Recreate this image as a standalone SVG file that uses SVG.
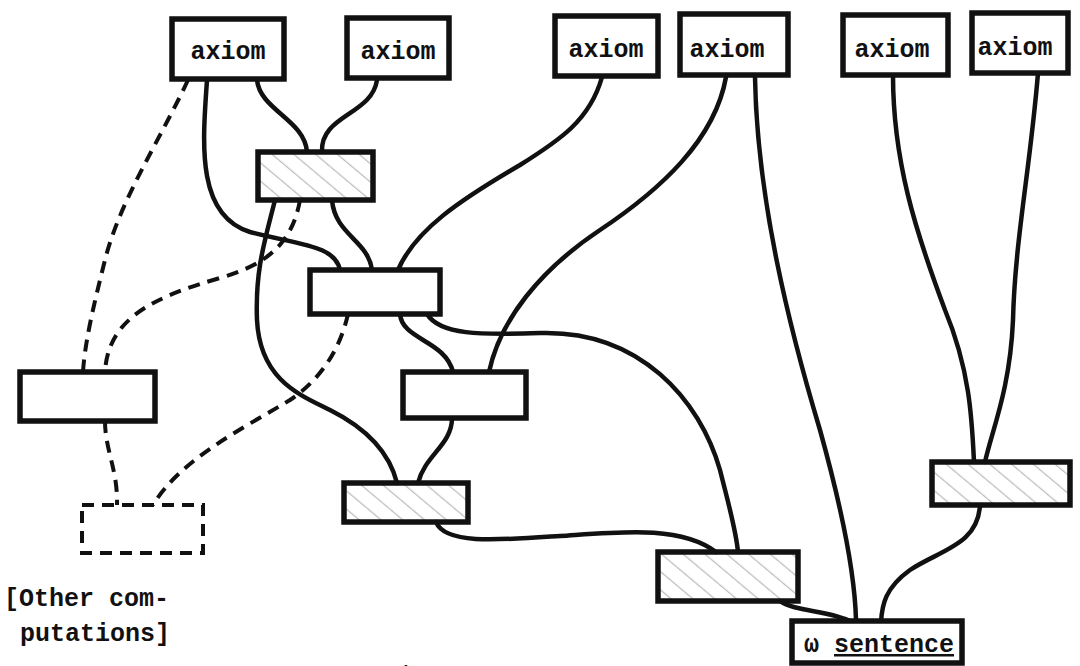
<svg xmlns="http://www.w3.org/2000/svg" width="1080" height="666" viewBox="0 0 1080 666">
<defs>
<pattern id="hatch" width="14" height="14" patternUnits="userSpaceOnUse" patternTransform="rotate(-50)">
<line x1="0" y1="0" x2="0" y2="14" stroke="#bdbdbd" stroke-width="2.5"/>
</pattern>
<style>
.box{fill:#fff;stroke:#111;stroke-width:5.5}
.hbox{fill:url(#hatch);stroke:#111;stroke-width:5.5}
.dbox{fill:none;stroke:#111;stroke-width:4;stroke-dasharray:12 8}
.ln{fill:none;stroke:#111;stroke-width:4.5;stroke-linecap:round}
.dl{fill:none;stroke:#111;stroke-width:4;stroke-dasharray:12 8}
.ax{font-family:"Liberation Mono","DejaVu Sans Mono",monospace;font-weight:bold;font-size:25px;fill:#111;text-anchor:middle}
.lbl{font-family:"Liberation Mono","DejaVu Sans Mono",monospace;font-size:25px;fill:#111}
</style>
</defs>
<rect width="1080" height="666" fill="#fff"/>
<g id="connectors">
<path class="ln" d="M207,80 C203,140 195,215 250,232 C300,245 335,245 340,270"/>
<path class="ln" d="M257,80 C260,110 305,120 307,152"/>
<path class="ln" d="M377,80 C372,115 320,115 322,152"/>
<path class="ln" d="M275,200 C265,240 255,270 257,320 C260,380 300,395 330,410 C370,430 390,455 397,483"/>
<path class="ln" d="M332,200 C335,235 368,240 372,270"/>
<path class="ln" d="M602,77 C590,120 560,140 520,165 C460,200 415,230 398,270"/>
<path class="ln" d="M726,77 C715,140 660,190 600,230 C540,270 500,320 489,372"/>
<path class="ln" d="M755,77 C757,200 790,330 820,430 C845,520 855,580 856,620"/>
<path class="ln" d="M893,75 C893,160 915,230 945,310 C970,370 972,420 974,462"/>
<path class="ln" d="M1038,73 C1030,170 1015,240 1013,320 C1010,390 992,430 985,462"/>
<path class="ln" d="M980,505 C978,545 940,550 910,570 C885,588 882,605 881,622"/>
<path class="ln" d="M780,601 C795,612 830,610 852,622"/>
<path class="ln" d="M400,314 C402,340 445,340 453,372"/>
<path class="ln" d="M427,314 C440,335 480,335 540,333 C640,330 700,400 720,470 C730,510 736,530 738,552"/>
<path class="ln" d="M452,418 C452,445 425,455 418,483"/>
<path class="ln" d="M436,522 C445,545 500,540 560,536 C620,532 680,525 716,552"/>
<path class="dl" d="M188,80 C160,140 120,200 105,260 C95,300 85,340 83,372"/>
<path class="dl" d="M300,200 C292,245 265,265 220,278 C150,298 108,320 105,372"/>
<path class="dl" d="M105,421 C105,450 118,470 117,505"/>
<path class="dl" d="M348,314 C340,350 320,380 290,400 C240,430 180,460 153,505"/>
</g>
<g id="axiom1"><rect class="box" x="172" y="19" width="112" height="60"/><text class="ax" x="228" y="59">axiom</text></g>
<g id="axiom2"><rect class="box" x="347" y="18" width="102" height="60"/><text class="ax" x="398" y="59">axiom</text></g>
<g id="axiom3"><rect class="box" x="555" y="16" width="103" height="60"/><text class="ax" x="606" y="57">axiom</text></g>
<g id="axiom4"><rect class="box" x="680" y="14" width="108" height="61"/><text class="ax" x="727" y="57">axiom</text></g>
<g id="axiom5"><rect class="box" x="843" y="15" width="105" height="60"/><text class="ax" x="892" y="57">axiom</text></g>
<g id="axiom6"><rect class="box" x="972" y="13" width="96" height="60"/><text class="ax" x="1015" y="55">axiom</text></g>
<g id="step1"><rect class="hbox" x="258" y="152" width="115" height="48"/></g>
<g id="step2"><rect class="box" x="310" y="270" width="130" height="44"/></g>
<g id="left"><rect class="box" x="20" y="372" width="135" height="49"/></g>
<g id="other"><rect class="dbox" x="82" y="505" width="121" height="48"/></g>
<g id="step3"><rect class="box" x="403" y="372" width="123" height="46"/></g>
<g id="step4"><rect class="hbox" x="344" y="483" width="124" height="39"/></g>
<g id="step5"><rect class="hbox" x="932" y="462" width="138" height="43"/></g>
<g id="step6"><rect class="hbox" x="658" y="552" width="140" height="49"/></g>
<g id="sentence"><rect class="box" x="792" y="621" width="170" height="42"/>
<text class="lbl" x="804" y="652" font-weight="bold" font-size="24">ω <tspan text-decoration="underline">sentence</tspan></text></g>
<g id="caption">
<text class="lbl" x="4" y="606" font-weight="bold">[Other com-</text>
<text class="lbl" x="20" y="641" font-weight="bold">putations]</text>
<text class="lbl" x="383" y="684" font-size="28">Figure</text>
</g>
</svg>
